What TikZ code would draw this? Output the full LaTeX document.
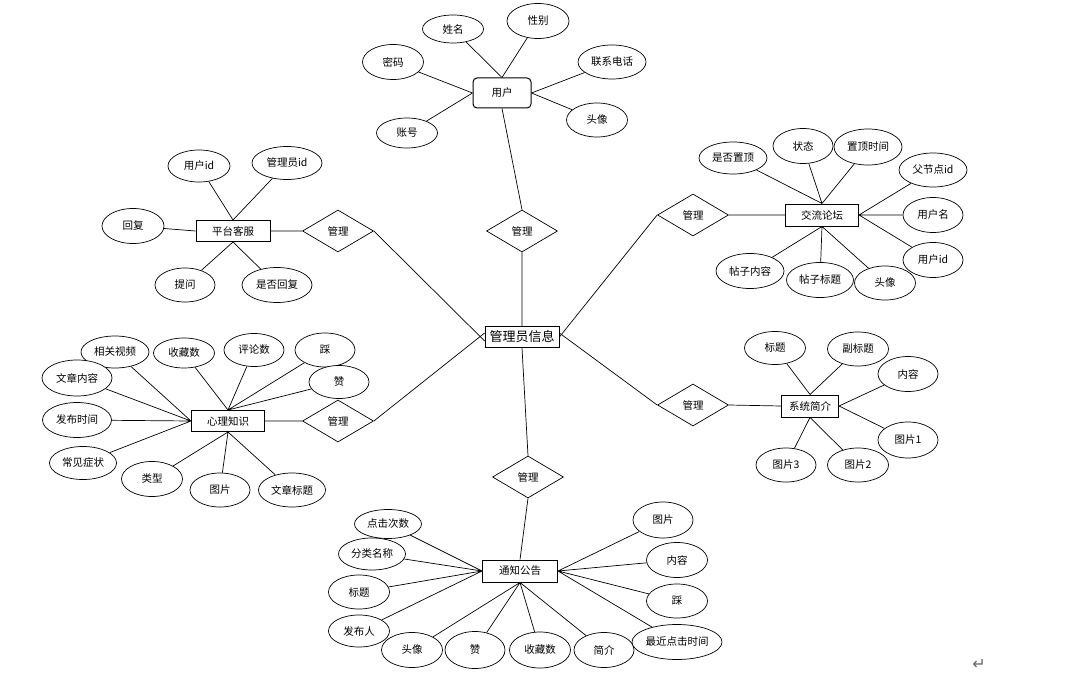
\documentclass[tikz,border=0pt]{standalone}
\usepackage{fontspec}
\setmainfont{Noto Sans CJK SC}
\newfontfamily\symfont{DejaVu Sans}
\usetikzlibrary{shapes.geometric,backgrounds}
\begin{document}
\begin{tikzpicture}[x=1pt,y=-1pt,
  font=\fontsize{10.5}{12}\selectfont,
  attr/.style 2 args={ellipse,draw,fill=white,line width=0.7pt,inner sep=0pt,minimum width=#1 pt,minimum height=#2 pt},
  ent/.style 2 args={rectangle,draw,fill=white,line width=1pt,inner sep=0pt,minimum width=#1 pt,minimum height=#2 pt},
  rel/.style={diamond,draw,fill=white,line width=0.7pt,inner sep=0pt,minimum width=71pt,minimum height=42pt},
  lk/.style={line width=0.7pt}]
\useasboundingbox (0,0) rectangle (1078,679);

% ---- user ----
\node[ent={58}{30},rounded corners=4pt] (user) at (502,93) {用户};
\node[attr={61}{28}] (u1) at (453,29) {姓名};
\node[attr={62}{35}] (u2) at (538,21) {性别};
\node[attr={61}{35}] (u3) at (393,62) {密码};
\node[attr={68}{34}] (u4) at (612,62) {联系电话};
\node[attr={61}{30}] (u5) at (407,133) {账号};
\node[attr={61}{34}] (u6) at (597,120) {头像};
\node[rel] (dU) at (522,231) {管理};

% ---- admin ----
\node[ent={74}{21},line width=0.8pt,font=\fontsize{13}{15}\selectfont] (admin) at (522,337) {管理员信息};

% ---- platform ----
\node[ent={74}{21}] (plat) at (233,231) {平台客服};
\node[attr={62}{32}] (p1) at (199,166) {用户id};
\node[attr={70}{33}] (p2) at (287,163) {管理员id};
\node[attr={62}{35}] (p3) at (133,226) {回复};
\node[attr={60}{34}] (p4) at (185,285) {提问};
\node[attr={70}{35}] (p5) at (277,285) {是否回复};
\node[rel] (dP) at (338,231) {管理};

% ---- forum ----
\node[ent={73}{22}] (forum) at (822,215) {交流论坛};
\node[attr={68}{32}] (f1) at (733,158) {是否置顶};
\node[attr={60}{35}] (f2) at (803,146) {状态};
\node[attr={68}{36}] (f3) at (868,147) {置顶时间};
\node[attr={68}{34}] (f4) at (933,170) {父节点id};
\node[attr={60}{35}] (f5) at (933,215) {用户名};
\node[attr={60}{35}] (f6) at (933,260) {用户id};
\node[attr={68}{35}] (f7) at (750,271) {帖子内容};
\node[attr={67}{35}] (f8) at (820,280) {帖子标题};
\node[attr={61}{34}] (f9) at (885,283) {头像};
\node[rel] (dJ) at (693,215) {管理};

% ---- psychology ----
\node[ent={73}{21}] (psy) at (228,421) {心理知识};
\node[attr={68}{32}] (x1) at (115,352) {相关视频};
\node[attr={70}{36}] (x2) at (77,378) {文章内容};
\node[attr={61}{30}] (x3) at (184,353) {收藏数};
\node[attr={60}{33}] (x4) at (254,350) {评论数};
\node[attr={60}{34}] (x5) at (325,350) {踩};
\node[attr={60}{33}] (x6) at (339,382) {赞};
\node[attr={69}{35}] (x7) at (77,420) {发布时间};
\node[attr={67}{33}] (x8) at (83,463) {常见症状};
\node[attr={61}{35}] (x9) at (152,479) {类型};
\node[attr={60}{34}] (x10) at (220,490) {图片};
\node[attr={67}{34}] (x11) at (292,490) {文章标题};
\node[rel] (dX) at (338,421) {管理};

% ---- system ----
\node[ent={57}{22}] (sys) at (810,406) {系统简介};
\node[attr={61}{33}] (s1) at (775,348) {标题};
\node[attr={61}{34}] (s2) at (858,349) {副标题};
\node[attr={60}{35}] (s3) at (908,374) {内容};
\node[attr={60}{36}] (s4) at (908,440) {图片1};
\node[attr={60}{34}] (s5) at (786,465) {图片3};
\node[attr={61}{34}] (s6) at (858,465) {图片2};
\node[rel] (dS) at (693,405) {管理};

% ---- notice ----
\node[ent={75}{22}] (note) at (520,571) {通知公告};
\node[attr={67}{29}] (n1) at (388,524) {点击次数};
\node[attr={67}{32}] (n2) at (372,554) {分类名称};
\node[attr={61}{34}] (n3) at (359,592) {标题};
\node[attr={61}{32}] (n4) at (359,631) {发布人};
\node[attr={61}{35}] (n5) at (412,650) {头像};
\node[attr={60}{37}] (n6) at (475,650) {赞};
\node[attr={61}{36}] (n7) at (540,650) {收藏数};
\node[attr={60}{35}] (n8) at (604,650) {简介};
\node[attr={60}{36}] (n9) at (663,520) {图片};
\node[attr={61}{35}] (n10) at (677,560) {内容};
\node[attr={61}{34}] (n11) at (677,601) {踩};
\node[attr={90}{35}] (n12) at (677,642) {最近点击时间};
\node[rel] (dT) at (528,477) {管理};

\node[text=black!60,font=\symfont\fontsize{16}{16}\selectfont] (ret) at (979,664) {↵};

\begin{scope}[on background layer]
\draw[lk] (u1) -- (user.north) (u2) -- (user.north)
  (u3) -- (user.west) (u5) -- (user.west)
  (u4) -- (user.east) (u6) -- (user.east)
  (user.south) -- (dU.north) (dU.south) -- (admin.north);
\draw[lk] (p1) -- (plat.north) (p2) -- (plat.north) (p3) -- (plat.west)
  (p4) -- (plat.south) (p5) -- (plat.south)
  (plat.east) -- (dP.west) (dP.east) -- ([yshift=-4pt]admin.west);
\draw[lk] (f1) -- (forum.north) (f2) -- (forum.north) (f3) -- (forum.north)
  (f4) -- (forum.east) (f5) -- (forum.east) (f6) -- (forum.east)
  (f7) -- (forum.south) (f8) -- (forum.south) (f9) -- (forum.south)
  (dJ.east) -- (forum.west) (admin.east) -- (dJ.west);
\draw[lk] (x1) -- (psy.west) (x2) -- (psy.west) (x7) -- (psy.west) (x8) -- (psy.west)
  (x3) -- (psy.north) (x4) -- (psy.north) (x5) -- (psy.north) (x6) -- (psy.north)
  (x9) -- (psy.south) (x10) -- (psy.south) (x11) -- (psy.south)
  (psy.east) -- (dX.west) (dX.east) -- ([yshift=4pt]admin.west);
\draw[lk] (s1) -- (sys.north) (s2) -- (sys.north) (s3) -- (sys.east) (s4) -- (sys.east)
  (s5) -- (sys.south) (s6) -- (sys.south)
  (dS.east) -- (sys.west) ([yshift=4pt]admin.east) -- (dS.west);
\draw[lk] (n1) -- (note.west) (n2) -- (note.west) (n3) -- (note.west) (n4) -- (note.west)
  (n5) -- (note.south) (n6) -- (note.south) (n7) -- (note.south) (n8) -- (note.south)
  (n9) -- (note.east) (n10) -- (note.east) (n11) -- (note.east) (n12) -- (note.east)
  (dT.south) -- (note.north) (admin.south) -- (dT.north);
\end{scope}
\end{tikzpicture}
\end{document}
